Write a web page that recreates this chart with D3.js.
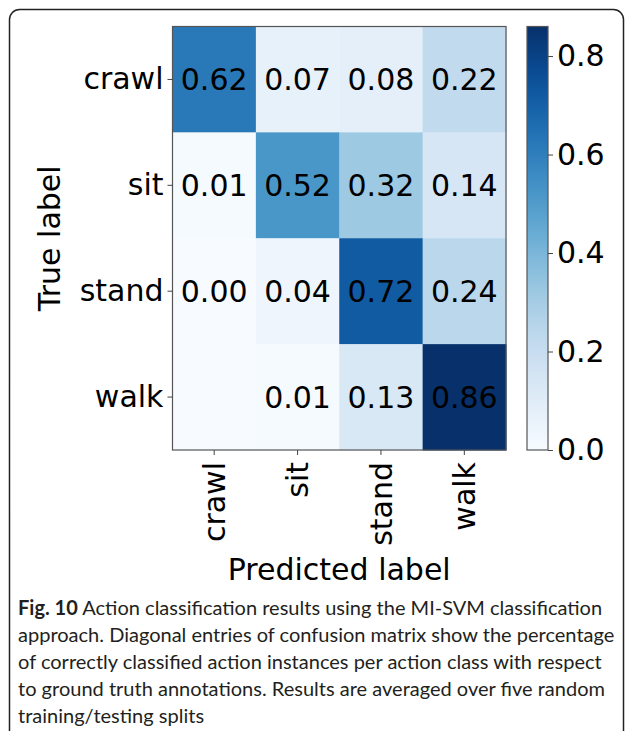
<!DOCTYPE html>
<html>
<head>
<meta charset="utf-8">
<script src="https://cdn.jsdelivr.net/npm/d3@7"></script>
<style>
  html, body { margin: 0; padding: 0; background: #fff; }
  svg { display: block; }
</style>
</head>
<body>
<svg id="chart" width="627" height="731"></svg>
<script>
// ---- data ----
const trueLabels = ["crawl", "sit", "stand", "walk"];
const predLabels = ["crawl", "sit", "stand", "walk"];
const rowCrawl = [0.62, 0.07, 0.08, 0.22];
const rowSit   = [0.01, 0.52, 0.32, 0.14];
const rowStand = [0.00, 0.04, 0.72, 0.24];
const rowWalk  = [null, 0.01, 0.13, 0.86];   // first cell shows no number
const colorbarTicks = [0.0, 0.2, 0.4, 0.6, 0.8];
const colorMax = 0.86;
const captionBold = "Fig. 10";
const captionLines = [
  " Action classification results using the MI-SVM classification",
  "approach. Diagonal entries of confusion matrix show the percentage",
  "of correctly classified action instances per action class with respect",
  "to ground truth annotations. Results are averaged over five random",
  "training/testing splits"
];

(function () {
const matrix = [rowCrawl, rowSit, rowStand, rowWalk];
const cells = [];
matrix.forEach((row, i) => row.forEach((v, j) => cells.push({r: trueLabels[i], c: predLabels[j], v})));

const svg = d3.select("#chart");
const FONT = "'DejaVu Sans', sans-serif";
const FS = 30;

// frame
svg.append("rect")
  .attr("x", 9.5).attr("y", 9.5).attr("width", 614).attr("height", 800)
  .attr("rx", 10).attr("fill", "none").attr("stroke", "#222").attr("stroke-width", 1.5);

// scales
const pL = 172.5, pR = 506, pT = 26.5, pB = 450;
const x = d3.scaleBand().domain(predLabels).range([pL, pR]);
const y = d3.scaleBand().domain(trueLabels).range([pT, pB]);
const color = v => d3.interpolateBlues((v == null ? 0 : v) / colorMax);

// cells
svg.append("g").selectAll("rect").data(cells).join("rect")
  .attr("x", d => x(d.c)).attr("y", d => y(d.r))
  .attr("width", x.bandwidth() + 0.5).attr("height", y.bandwidth() + 0.5)
  .attr("fill", d => color(d.v));

// annotations
svg.append("g").selectAll("text").data(cells.filter(d => d.v != null)).join("text")
  .attr("x", d => x(d.c) + x.bandwidth() / 2)
  .attr("y", d => y(d.r) + y.bandwidth() / 2)
  .attr("dy", "0.36em")
  .attr("text-anchor", "middle")
  .style("font-family", FONT).style("font-size", FS + "px").attr("fill", "#000")
  .text(d => d.v.toFixed(2));

// heatmap spines
svg.append("rect")
  .attr("x", pL).attr("y", pT).attr("width", pR - pL).attr("height", pB - pT)
  .attr("fill", "none").attr("stroke", "#555").attr("stroke-width", 1.2);

// y axis
const yAxis = svg.append("g").attr("transform", `translate(${pL},0)`)
  .call(d3.axisLeft(y).tickSize(5).tickPadding(4));
yAxis.select(".domain").remove();
yAxis.selectAll("line").attr("stroke", "#444");
yAxis.selectAll("text").style("font-family", FONT).style("font-size", FS + "px").attr("fill", "#000");

// x axis
const xAxis = svg.append("g").attr("transform", `translate(0,${pB})`)
  .call(d3.axisBottom(x).tickSize(5));
xAxis.select(".domain").remove();
xAxis.selectAll("line").attr("stroke", "#444");
xAxis.selectAll("text")
  .attr("transform", "rotate(-90)")
  .attr("x", -12).attr("y", 0).attr("dy", "0.36em")
  .attr("text-anchor", "end")
  .style("font-family", FONT).style("font-size", FS + "px").attr("fill", "#000");

// axis titles
svg.append("text")
  .attr("x", (pL + pR) / 2).attr("y", 580)
  .attr("text-anchor", "middle")
  .style("font-family", FONT).style("font-size", FS + "px").attr("fill", "#000")
  .text("Predicted label");
svg.append("text")
  .attr("transform", `translate(60,${(pT + pB) / 2}) rotate(-90)`)
  .attr("text-anchor", "middle")
  .style("font-family", FONT).style("font-size", FS + "px").attr("fill", "#000")
  .text("True label");

// colorbar
const cbX = 527, cbW = 21;
const cb = d3.scaleLinear().domain([0, colorMax]).range([pB, pT]);
const defs = svg.append("defs");
const grad = defs.append("linearGradient").attr("id", "cbgrad")
  .attr("x1", 0).attr("y1", 1).attr("x2", 0).attr("y2", 0);
d3.range(0, 1.0001, 0.05).forEach(t => {
  grad.append("stop").attr("offset", t).attr("stop-color", d3.interpolateBlues(t));
});
svg.append("rect")
  .attr("x", cbX).attr("y", cb(colorMax)).attr("width", cbW).attr("height", cb(0) - cb(colorMax))
  .attr("fill", "url(#cbgrad)").attr("stroke", "#555").attr("stroke-width", 1.2);
const cbAxis = svg.append("g").attr("transform", `translate(${cbX + cbW},0)`)
  .call(d3.axisRight(cb).tickValues(colorbarTicks).tickFormat(d3.format(".1f")).tickSize(5).tickPadding(4));
cbAxis.select(".domain").remove();
cbAxis.selectAll("line").attr("stroke", "#444");
cbAxis.selectAll("text").style("font-family", FONT).style("font-size", FS + "px").attr("fill", "#000");

// caption
const capFont = "Lato, 'Open Sans', sans-serif";
const capG = svg.append("g");
const probe = capG.append("text").style("font-family", capFont).style("font-size", "20px").text(captionLines[1]);
const w20 = probe.node().getComputedTextLength();
probe.remove();
const capSize = 20 * 597 / w20;
const baselines = [615, 642, 669, 696, 723];
captionLines.forEach((line, i) => {
  const t = capG.append("text").attr("x", 18).attr("y", baselines[i])
    .style("font-family", capFont).style("font-size", capSize + "px").attr("fill", "#231f20");
  if (i === 0) {
    t.append("tspan").style("font-weight", "bold").text(captionBold);
  }
  t.append("tspan").text(line);
});
})();
</script>
</body>
</html>
